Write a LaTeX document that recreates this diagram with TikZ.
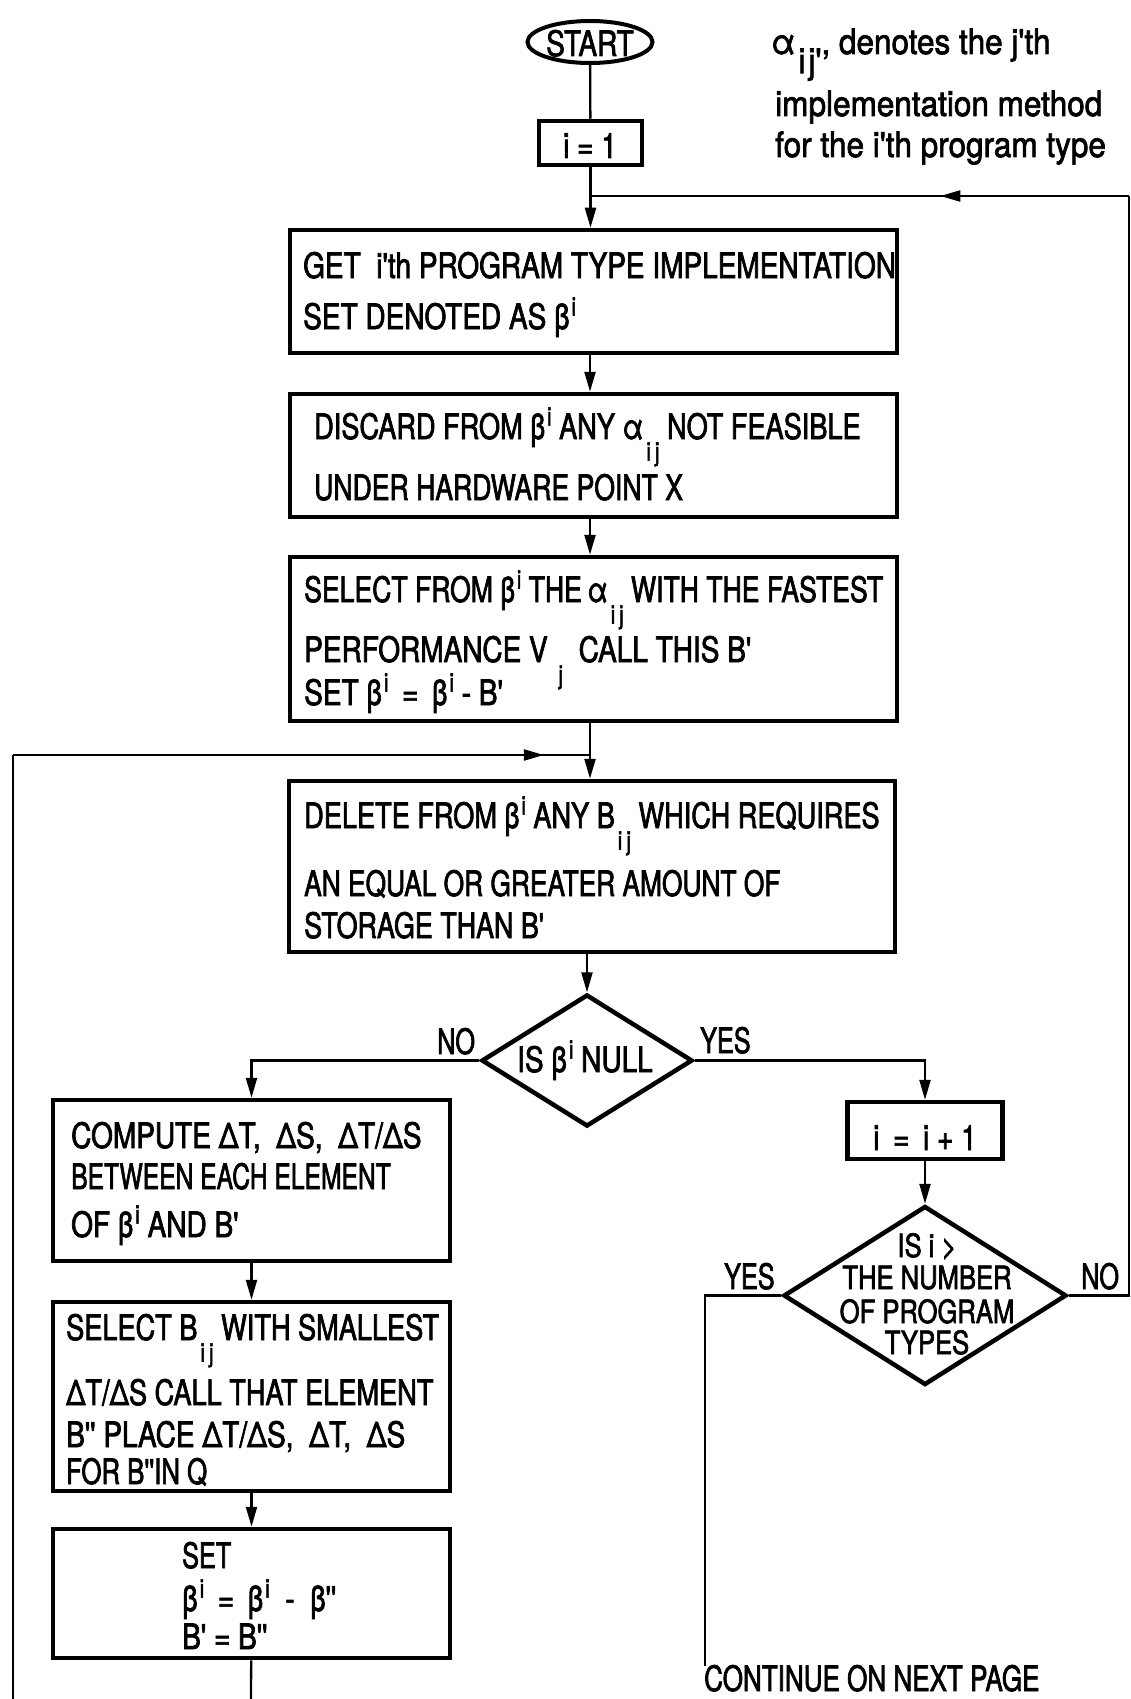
\documentclass[tikz,border=0pt]{standalone}
\usepackage{fontspec}
\usepackage{graphicx}
\setmainfont{TeX Gyre Heros}[FakeStretch=0.8, FakeBold=2, Ligatures=TeXOff]
\newfontfamily\notefam{TeX Gyre Heros}[FakeStretch=0.9, FakeBold=2, Ligatures=TeXOff]
\usetikzlibrary{shapes.geometric,arrows.meta,decorations.markings}
\newcommand\bodyfont{\fontsize{35}{42}\selectfont\lineskiplimit=-100pt\relax}
\newcommand\notefont{\notefam\fontsize{35}{42}\selectfont\lineskiplimit=-100pt\relax}
\newcommand\diafont{\fontsize{32}{42}\selectfont\lineskiplimit=-100pt\relax}
\newcommand\supp[1]{\kern2pt\raisebox{0.38em}{\fontsize{26}{26}\selectfont #1}}
\newcommand\subb[1]{\kern3pt\raisebox{-0.62em}{\fontsize{26}{26}\selectfont #1}}
\newcommand\hs[2]{\scalebox{#1}[1]{#2}}
\tikzset{
  box/.style={draw, line width=4.5pt, rectangle, inner sep=0pt},
  dia/.style={draw, line width=4.5pt, diamond, inner sep=0pt},
  oval/.style={draw, line width=4pt, ellipse, inner sep=0pt},
  conn/.style={line width=2.3pt},
  tip/.tip={Triangle[length=20pt,width=11pt]},
  arr/.style={conn, -tip},
  midarr/.style={conn, postaction={decorate},
    decoration={markings, mark=at position #1 with {\arrow{tip}}}},
  txt/.style={inner sep=0pt, align=left, font=\bodyfont},
  ctxt/.style={inner sep=0pt, align=center, font=\bodyfont},
}
\begin{document}
\begin{tikzpicture}[x=1pt,y=-1pt]
\useasboundingbox (0,0) rectangle (1131,1699);
% shapes
\node[oval, minimum width=125pt, minimum height=42pt] (start) at (590,42) {};
\node[ctxt, anchor=base] (startt) at (590,56) {START};
\node[box, minimum width=103pt, minimum height=44pt] (i1) at (590.5,143) {};
\node[ctxt, anchor=base] (i1t) at (590,158) {i = 1};
\node[box, minimum width=607pt, minimum height=123pt] (b1) at (593.5,291.5) {};
\node[box, minimum width=607pt, minimum height=123pt] (b2) at (593.5,455.5) {};
\node[box, minimum width=607pt, minimum height=164pt] (b3) at (593.5,639) {};
\node[box, minimum width=606pt, minimum height=171pt] (b4) at (592,866.5) {};
\node[dia, minimum width=211pt, minimum height=132pt] (d1) at (587,1060.5) {};
\node[box, minimum width=397pt, minimum height=161pt] (b5) at (251.5,1180.5) {};
\node[box, minimum width=397pt, minimum height=189pt] (b6) at (251.5,1396.5) {};
\node[box, minimum width=397pt, minimum height=129pt] (b7) at (251.5,1593.5) {};
\node[box, minimum width=155pt, minimum height=57pt] (i2) at (925,1130.5) {};
\node[dia, minimum width=283pt, minimum height=179pt] (d2) at (925,1295.5) {};
% texts (anchor = baseline of the last line)
\node[txt, font=\notefont, anchor=base west] (note) at (775,157)
  {\hspace{-4pt}α\kern3pt\raisebox{-0.55em}{i\kern3pt j'}, denotes the j'th\\[20pt]
   implementation method\\[-1pt]for the i'th program type};
\node[txt, anchor=base west] (t1) at (303,329)
  {GET\ \ i'th PROGRAM TYPE IMPLEMENTATION\\[9pt]SET DENOTED AS β\supp{i}};
\node[txt, anchor=base west] (t2) at (314,500)
  {\hs{0.97}{DISCARD FROM β\supp{i} ANY α\subb{i\,j} NOT FEASIBLE}\\[19pt]\hs{0.95}{UNDER HARDWARE POINT X}};
\node[txt, anchor=base west] (t3) at (304,705)
  {\hs{0.95}{SELECT FROM β\supp{i} THE\,α\subb{i\,j}\ WITH THE FASTEST}\\[18pt]
   PERFORMANCE V\ \subb{j}\ \ CALL THIS B'\\[1pt]SET β\supp{i} \,=\, β\supp{i} - B'};
\node[txt, anchor=base west] (t4) at (304,938)
  {\hs{0.97}{DELETE FROM β\supp{i} ANY B\subb{i\,j}\ WHICH REQUIRES}\\[26pt]
   \hs{0.94}{AN EQUAL OR GREATER AMOUNT OF}\\[0pt]\hs{0.96}{STORAGE THAN B'}};
\node[txt, anchor=base west] (d1t) at (517,1072) {IS β\supp{i} NULL};
\node[txt, anchor=base west] (no1) at (437,1054) {\hs{0.9}{NO}};
\node[txt, anchor=base west] (yes1) at (700,1053) {\hs{0.9}{YES}};
\node[txt, anchor=base west] (t5) at (71,1237)
  {COMPUTE ΔT,\ \ ΔS,\ \ ΔT/ΔS\\[-1pt]\hs{0.88}{BETWEEN EACH ELEMENT}\\[6pt]OF β\supp{i} AND B'};
\node[txt, anchor=base west] (t6) at (66,1484)
  {\hs{0.97}{SELECT B\subb{i\,j}\ WITH SMALLEST}\\[23pt]\hs{0.97}{ΔT/ΔS CALL THAT ELEMENT}\\[0pt]
   B'' PLACE ΔT/ΔS,\ \ ΔT,\ \ ΔS\\[-5pt]\hs{0.92}{FOR B''IN Q}};
\node[txt, anchor=base west] (t7) at (182,1649)
  {\hs{0.9}{SET}\\[1pt]β\supp{i} \,=\, β\supp{i}\ \ -\ \ β''\\[-4pt]B'\ =\ B''};
\node[ctxt, anchor=base] (i2t) at (925,1150) {i \,=\, i + 1};
\node[ctxt, font=\diafont, anchor=base] (d2t) at (927,1354)
  {IS i >\\[-10pt]THE NUMBER\\[-8pt]OF PROGRAM\\[-11pt]TYPES};
\node[txt, anchor=base west] (yes2) at (724,1289) {\hs{0.9}{YES}};
\node[txt, anchor=base west] (no2) at (1081,1289) {\hs{0.9}{NO}};
\node[txt, anchor=base west] (cont) at (704,1691) {\hs{0.93}{CONTINUE ON NEXT PAGE}};
% coordinates
\coordinate (j1) at (590,196);
\coordinate (c1) at (1129,196);
\coordinate (j2) at (590,755);
\coordinate (c2) at (13,755);
\coordinate (c3) at (13,1699);
\coordinate (e7) at (251,1699);
\coordinate (yesend) at (705,1666);
% connectors
\draw[conn] (start) -- (i1);
\draw[arr] (i1.south) -- (i1.south |- b1.north);
\draw[conn] (d2.east) -| (c1);
\draw[midarr=0.35] (c1) -- (j1);
\draw[arr] (b1.south -| j1) -- (b2.north -| j1);
\draw[arr] (b2.south -| j1) -- (b3.north -| j1);
\draw[arr] (b3.south -| j1) -- (b4.north -| j1);
\draw[conn] (c3) -- (c2);
\draw[midarr=0.92] (c2) -- (j2);
\draw[arr] (b4.south -| d1.north) -- (d1.north);
\draw[arr] (d1.west) -| (b5.north);
\draw[arr] (d1.east) -| (i2.north);
\draw[arr] (i2) -- (d2.north);
\draw[arr] (b5) -- (b6);
\draw[arr] (b6) -- (b7);
\draw[conn] (b7) -- (e7);
\draw[conn] (d2.west) -| (yesend);
\end{tikzpicture}
\end{document}
